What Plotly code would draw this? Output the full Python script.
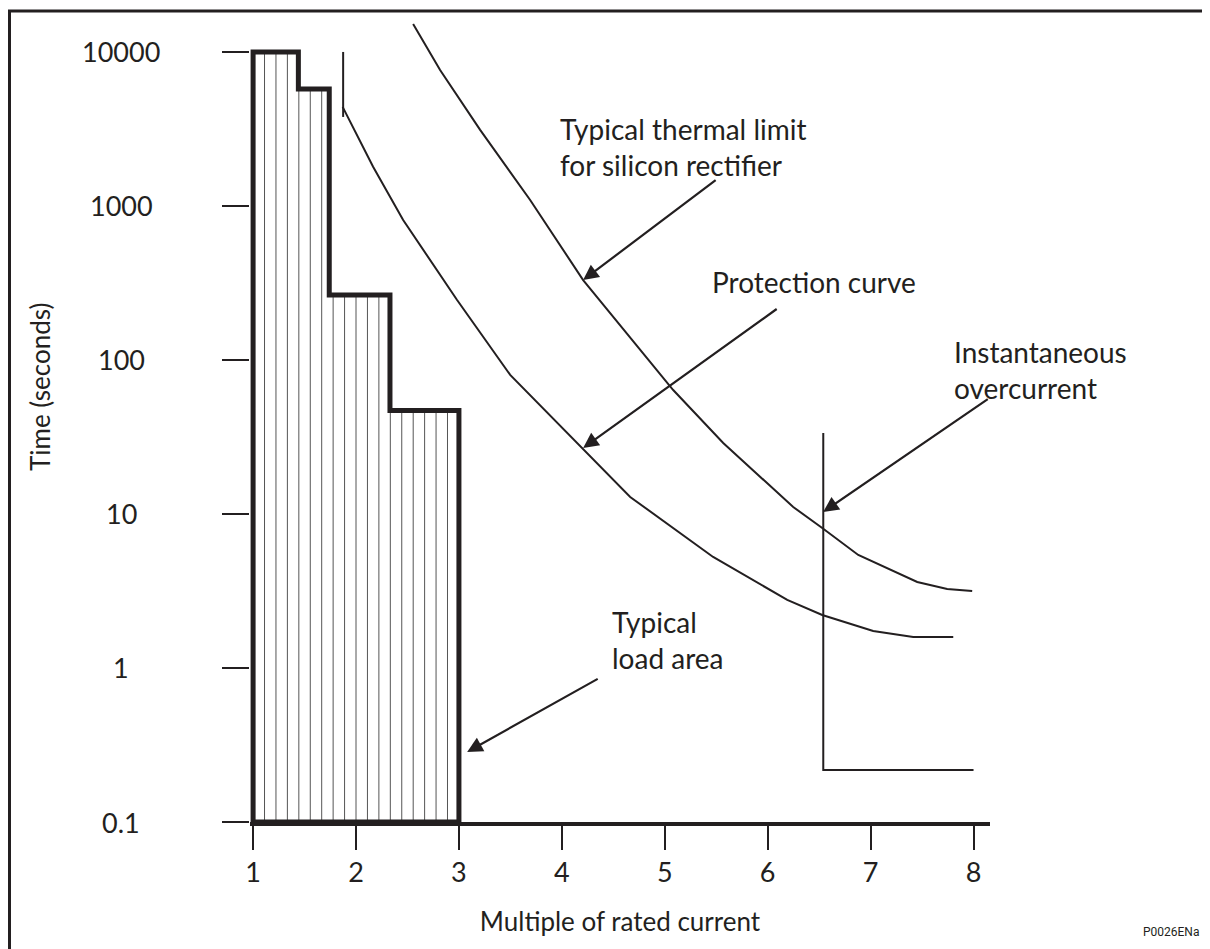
import math
import plotly.graph_objects as go

# ---------------- data ----------------
# Typical load area: step envelope (edges along x, time level of each step)
load_edges = [1.0, 1.44, 1.74, 2.33, 3.0]
load_times = [10000, 5750, 264, 47]
hatch_count = 17  # vertical hatching lines inside the load area

# Protection curve
prot_x = [1.87, 2.166, 2.458, 2.652, 2.982, 3.498, 4.051, 4.664, 5.47, 6.19, 6.53, 7.025, 7.414, 7.803]
prot_t = [4400, 1800, 811, 518, 245, 80, 33.6, 12.9, 5.26, 2.77, 2.21, 1.74, 1.59, 1.59]
pickup_x = [1.875, 1.875]
pickup_t = [10000, 3785]

# Typical thermal limit for silicon rectifier
therm_x = [2.555, 2.817, 3.206, 3.692, 4.207, 4.499, 5.082, 5.568, 6.248, 6.53, 6.88, 7.453, 7.744, 7.987]
therm_t = [15200, 7640, 3120, 1094, 330, 190, 63.8, 28.9, 11.1, 8.11, 5.42, 3.62, 3.26, 3.16]

# Instantaneous overcurrent
inst_x = [6.54, 6.54, 8.0]
inst_t = [33.6, 0.218, 0.218]

x_ticks = [1, 2, 3, 4, 5, 6, 7, 8]
y_ticks = [0.1, 1, 10, 100, 1000, 10000]
y_ticklabels = ["0.1", "1", "10", "100", "1000", "10000"]

# ---------------- style ----------------
INK = "#231f20"
FONT = "Lato"
FS = 26      # axis text
FS_LAB = 28  # callout labels
OFF = 8                      # browser body margin
W, H = 1210 - OFF, 949 - OFF
PL, PR, PT, PB = 250, 990, 15, 822   # plot area in page pixels
ML, MR, MT, MB = PL - OFF, W - (PR - OFF), PT - OFF, H - (PB - OFF)
XR = [0.97, 8.16]
YR = [-1, 4.24]


def px_to_paper_x(px):
    return (px - PL) / (PR - PL)


def py_to_paper_y(py):
    return (PB - py) / (PB - PT)


fig = go.Figure()

# hatching
hx, hy = [], []
span = load_edges[-1] - load_edges[0]
for k in range(1, hatch_count + 1):
    xv = load_edges[0] + span * k / (hatch_count + 1)
    lvl = load_times[-1]
    for i in range(len(load_times)):
        if load_edges[i] <= xv < load_edges[i + 1]:
            lvl = load_times[i]
            break
    hx += [xv, xv, None]
    hy += [y_ticks[0], lvl, None]
fig.add_trace(go.Scatter(x=hx, y=hy, mode="lines", line=dict(color="#555555", width=1),
                         hoverinfo="skip", showlegend=False))

# load area outline
bx = [load_edges[0]]
by = [y_ticks[0]]
for i, t in enumerate(load_times):
    bx += [load_edges[i], load_edges[i + 1]]
    by += [t, t]
bx += [load_edges[-1], load_edges[0]]
by += [y_ticks[0], y_ticks[0]]
fig.add_trace(go.Scatter(x=bx, y=by, mode="lines", line=dict(color=INK, width=5),
                         showlegend=False))

# curves
fig.add_trace(go.Scatter(x=prot_x, y=prot_t, mode="lines", line=dict(color=INK, width=2),
                         showlegend=False, name="Protection curve"))
fig.add_trace(go.Scatter(x=pickup_x, y=pickup_t, mode="lines", line=dict(color=INK, width=2),
                         showlegend=False))
fig.add_trace(go.Scatter(x=therm_x, y=therm_t, mode="lines", line=dict(color=INK, width=2),
                         showlegend=False, name="Thermal limit"))
fig.add_trace(go.Scatter(x=inst_x, y=inst_t, mode="lines", line=dict(color=INK, width=2),
                         showlegend=False, name="Instantaneous overcurrent"))

annotations = []
# y tick labels (centred)
for v, lab in zip(y_ticks, y_ticklabels):
    annotations.append(dict(x=px_to_paper_x(121), xref="paper", y=math.log10(v), yref="y",
                            text=lab, showarrow=False, xanchor="center", yanchor="middle",
                            font=dict(family=FONT, size=27, color=INK)))
# y title
annotations.append(dict(x=px_to_paper_x(40), xref="paper", y=py_to_paper_y(387), yref="paper",
                        text="Time (seconds)", textangle=-90, showarrow=False,
                        xanchor="center", yanchor="middle",
                        font=dict(family=FONT, size=FS, color=INK)))

# labels
labels = [
    ("Typical thermal limit<br>for silicon rectifier", 3.964, 3.386),
    ("Protection curve", 5.441, 2.506),
    ("Instantaneous<br>overcurrent", 7.793, 1.935),
    ("Typical<br>load area", 4.469, 0.182),
]
for txt, xv, ly in labels:
    annotations.append(dict(x=xv, y=ly, xref="x", yref="y", text=txt, showarrow=False,
                            xanchor="left", yanchor="middle", align="left",
                            font=dict(family=FONT, size=FS_LAB, color=INK)))

# arrows: (tip x, tip log-t, tail x, tail log-t)
arrows = [
    (4.207, 2.519, 5.509, 3.175),
    (4.207, 1.429, 6.102, 2.338),
    (6.539, 1.013, 8.153, 1.753),
    (3.080, -0.545, 4.363, -0.065),
]
for x1, y1, x0, y0 in arrows:
    annotations.append(dict(x=x1, y=y1, ax=x0, ay=y0, xref="x", yref="y", axref="x", ayref="y",
                            text="", showarrow=True, arrowhead=2, arrowsize=1.4,
                            arrowwidth=2.2, arrowcolor=INK, standoff=0))

annotations.append(dict(x=px_to_paper_x(1171), y=py_to_paper_y(932), xref="paper", yref="paper",
                        text="P0026ENa", showarrow=False, xanchor="center", yanchor="middle",
                        font=dict(family="Roboto", size=12, color=INK)))

fig.update_layout(
    width=W, height=H,
    margin=dict(l=ML, r=MR, t=MT, b=MB, pad=0),
    paper_bgcolor="white", plot_bgcolor="white",
    showlegend=False,
    annotations=annotations,
    shapes=[dict(type="rect", xref="paper", yref="paper",
                 x0=px_to_paper_x(9.5), x1=px_to_paper_x(1204),
                 y0=py_to_paper_y(960), y1=py_to_paper_y(11),
                 line=dict(color=INK, width=3), fillcolor="rgba(0,0,0,0)", layer="above")],
    xaxis=dict(range=XR, showgrid=False, zeroline=False, showline=True, linewidth=4,
               linecolor=INK, ticks="outside", ticklen=24, tickwidth=2, tickcolor=INK,
               tickvals=x_ticks, ticktext=[str(v) for v in x_ticks],
               tickfont=dict(family=FONT, size=27, color=INK),
               title=dict(text="Multiple of rated current", standoff=26,
                          font=dict(family=FONT, size=FS, color=INK))),
    yaxis=dict(type="log", range=YR, showgrid=False, zeroline=False, showline=False,
               ticks="outside", ticklen=27, tickwidth=2, tickcolor=INK,
               tickvals=y_ticks, showticklabels=False),
)

fig.write_html("out.html")
